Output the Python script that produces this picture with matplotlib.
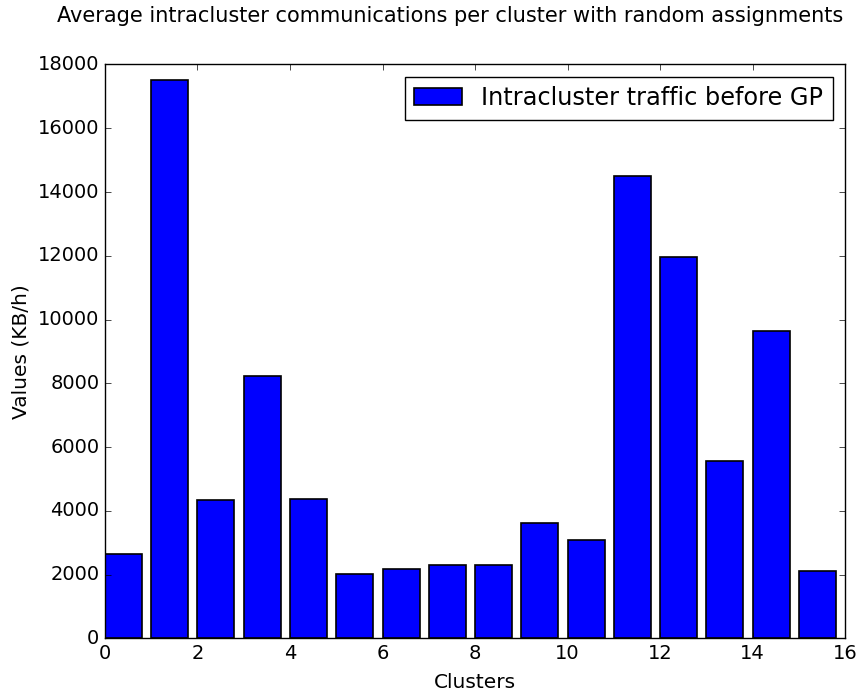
import numpy as np
import matplotlib
matplotlib.use('Agg')
import matplotlib.pyplot as plt

plt.style.use('classic')

clusters = np.arange(16)
traffic = [2655, 17515, 4350, 8240, 4370, 2010, 2185, 2290, 2310,
           3610, 3085, 14495, 11960, 5575, 9640, 2100]
series_label = 'Intracluster traffic before GP'

fig = plt.figure(figsize=(8.62, 6.95), dpi=100, facecolor='white')
ax = fig.add_axes([0.1218, 0.0816, 0.8585, 0.8256])

ax.bar(clusters, traffic, width=0.8, align='edge', color='b',
       edgecolor='k', linewidth=1.2, label=series_label)

ax.set_xlim(0, 16)
ax.set_ylim(0, 18000)
ax.tick_params(labelsize=14)
ax.set_xlabel('Clusters', fontsize=14.5, labelpad=7)
ax.set_ylabel('Values (KB/h)', fontsize=14.5)
ax.legend(loc='upper right', fontsize=17.3)

fig.text(0.522, 0.977, 'Average intracluster communications per cluster with random assignments',
         ha='center', va='center', fontsize=15)

fig.savefig('out.png', dpi=100, facecolor='white')
